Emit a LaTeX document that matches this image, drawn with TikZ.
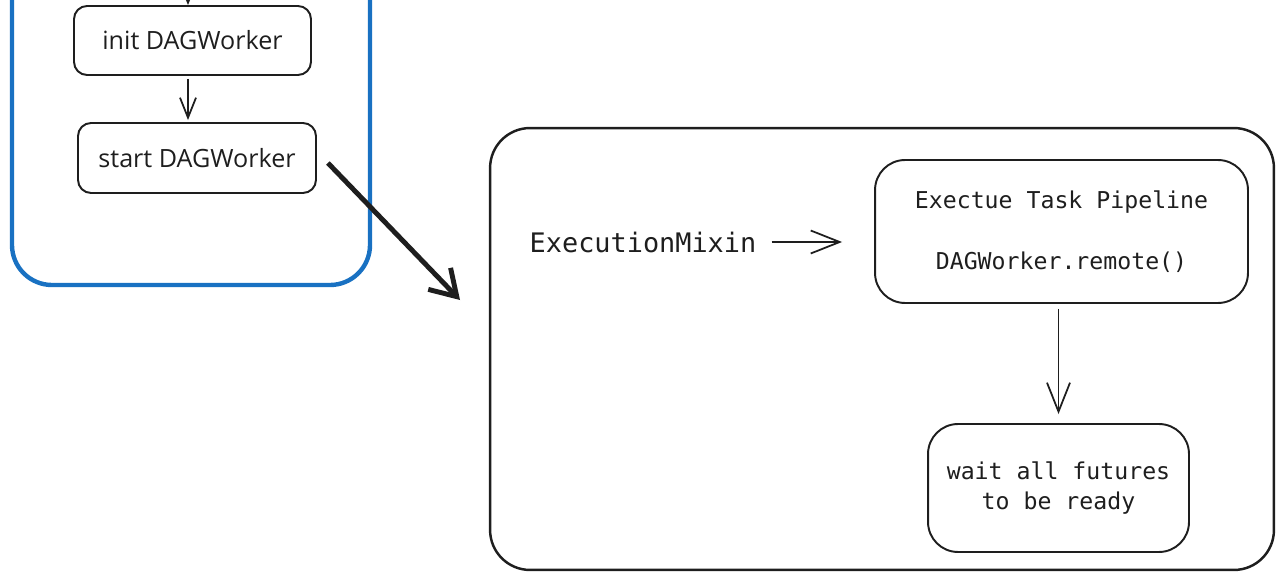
\documentclass[tikz,border=0pt]{standalone}
\usepackage{fontspec}
\setsansfont{Open Sans}
\setmonofont{DejaVu Sans Mono}
\usepackage{xcolor}
\usetikzlibrary{arrows.meta,positioning}
\definecolor{ink}{HTML}{1E1E1E}
\definecolor{frameblue}{HTML}{1971C2}

\begin{document}
\begin{tikzpicture}[
  x=0.02cm, y=-0.02cm,
  stepbox/.style={draw=ink, line width=1.1pt, rounded corners=0.26cm,
              align=center, text=ink, inner sep=0pt,
              font=\sffamily\fontsize{14.3}{17}\selectfont},
  codebox/.style={draw=ink, line width=1.1pt, rounded corners=0.6cm,
              align=center, text=ink, inner sep=0pt,
              font=\ttfamily\fontsize{13.2}{17}\selectfont},
  arr/.style={-{Straight Barb[length=0.4cm,width=0.32cm]}, line width=1pt, ink},
  longarr/.style={-{Straight Barb[length=0.58cm,width=0.46cm]}, line width=1pt, ink},
  bigarr/.style={-{Straight Barb[length=0.5cm,width=0.62cm]}, line width=2.8pt, ink},
]
\useasboundingbox (0,0) rectangle (1280,577);

% left frame (continues above the page)
\draw[frameblue, line width=2.5pt, rounded corners=0.8cm]
  (12,-60) -- (12,285) -- (370,285) -- (370,-60);

\node[stepbox, minimum width=4.74cm, minimum height=1.38cm] (init) at (192.5,40.5) {init DAGWorker};
\node[stepbox, minimum width=4.76cm, minimum height=1.40cm] (start) at (197,158) {start DAGWorker};
\coordinate (from) at (188,-40);

% execution frame
\node[draw=ink, line width=1.4pt, rounded corners=0.8cm,
      minimum width=15.68cm, minimum height=8.84cm] (exec) at (882,349) {};
\node[text=ink, font=\ttfamily\fontsize{15.3}{18}\selectfont, inner sep=0.3cm] (mixin) at (643,242) {ExecutionMixin};
\node[codebox, minimum width=7.46cm, minimum height=2.86cm] (pipe) at (1061.5,231.5)
  {Exectue Task Pipeline\\[0.62cm]DAGWorker.remote()};
\node[codebox, minimum width=5.22cm, minimum height=2.56cm] (wait) at (1058.5,488)
  {wait all futures\\to be ready};
\coordinate (land) at (460,300);

\draw[arr] (from) -- (from |- init.north);
\draw[arr, shorten <=0.06cm, shorten >=0.04cm] (from |- init.south) -- (from |- start.north);
\draw[bigarr] (start.east) ++(11,5) -- (land);
\draw[longarr, shorten >=0.64cm] (mixin.east) -- (mixin.east -| pipe.west);
\draw[longarr, shorten <=0.1cm, shorten >=0.18cm] (pipe.south -| wait) -- (wait);
\end{tikzpicture}
\end{document}
